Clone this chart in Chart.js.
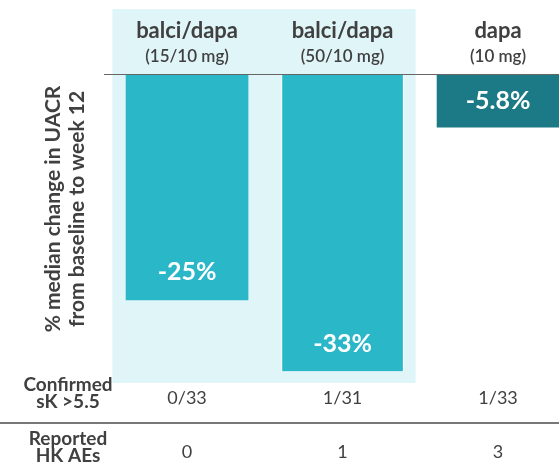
<!DOCTYPE html>
<html>
<head>
<meta charset="utf-8">
<script src="https://cdn.jsdelivr.net/npm/chart.js@4"></script>
<style>
  body { margin: 0; background: #fff; overflow: hidden; }
  canvas { display: block; }
</style>
</head>
<body>
<canvas id="myChart" width="559" height="465"></canvas>
<script>
// data
var groups = ["balci/dapa", "balci/dapa", "dapa"];
var doses = ["(15/10 mg)", "(50/10 mg)", "(10 mg)"];
var uacrChange = [-25, -33, -5.8];
var uacrLabels = ["-25%", "-33%", "-5.8%"];
var confirmedSK = ["0/33", "1/31", "1/33"];
var reportedHK = ["0", "1", "3"];

var FONT = "Lato, 'Open Sans', sans-serif";
var TEXT = "#404040";

var overlay = {
    id: "overlay",
    beforeDatasetsDraw: function (chart) {
        var ctx = chart.ctx, x = chart.scales.x, a = chart.chartArea;
        // shaded band behind the two combination groups
        var x0 = x.getPixelForValue(-0.48), x1 = x.getPixelForValue(1.47);
        ctx.save();
        ctx.fillStyle = "#e0f5f8";
        ctx.fillRect(x0, a.top, x1 - x0, a.bottom - a.top);
        ctx.restore();
    },
    afterDraw: function (chart) {
        var ctx = chart.ctx, x = chart.scales.x, y = chart.scales.y, a = chart.chartArea;
        ctx.save();
        // zero baseline
        var y0 = Math.round(y.getPixelForValue(0)) - 0.5;
        ctx.strokeStyle = "#666";
        ctx.lineWidth = 1;
        ctx.beginPath();
        ctx.moveTo(a.left, y0);
        ctx.lineTo(a.right, y0);
        ctx.stroke();

        ctx.textAlign = "center";
        ctx.textBaseline = "middle";
        for (var i = 0; i < groups.length; i++) {
            var cx = x.getPixelForValue(i);
            ctx.fillStyle = TEXT;
            ctx.font = "bold 22px " + FONT;
            ctx.fillText(groups[i], cx, 31);
            ctx.font = "600 17px " + FONT;
            ctx.fillText(doses[i], cx, 57);

            // value label inside bar
            var bottom = y.getPixelForValue(uacrChange[i]);
            ctx.fillStyle = "#fff";
            ctx.font = "bold 25px " + FONT;
            ctx.fillText(uacrLabels[i], cx, Math.max(bottom - 28, (bottom + y.getPixelForValue(0)) / 2));

            ctx.fillStyle = TEXT;
            ctx.font = "18px " + FONT;
            ctx.fillText(confirmedSK[i], cx, 398);
            ctx.fillText(reportedHK[i], cx, 452);
        }

        // row headers
        ctx.fillStyle = TEXT;
        ctx.font = "bold 19px " + FONT;
        ctx.fillText("Confirmed", 68, 385);
        ctx.fillText("sK >5.5", 68, 402);
        ctx.fillText("Reported", 68, 439);
        ctx.fillText("HK AEs", 68, 456);

        // divider between table rows
        ctx.strokeStyle = "#777";
        ctx.lineWidth = 2;
        ctx.beginPath();
        ctx.moveTo(0, 423);
        ctx.lineTo(chart.width, 423);
        ctx.stroke();

        // y title
        ctx.translate(65, 209);
        ctx.rotate(-Math.PI / 2);
        ctx.font = "bold 21px " + FONT;
        ctx.fillText("% median change in UACR", 0, -12);
        ctx.fillText("from baseline to week 12", 0, 12);
        ctx.restore();
    }
};

var ctx = document.getElementById("myChart");
var chart = new Chart(ctx, {
    type: "bar",
    data: {
        datasets: [{
            data: uacrChange.map(function (v, i) { return { x: i, y: v }; }),
            backgroundColor: ["#2ab7c8", "#2ab7c8", "#1b7a85"],
            borderColor: "#fff",
            borderWidth: [0, 1, 0],
            barThickness: 122
        }]
    },
    options: {
        responsive: false,
        animation: false,
        layout: { padding: { left: 104, right: 0, top: 9, bottom: 82 } },
        plugins: { legend: { display: false }, tooltip: { enabled: false } },
        scales: {
            x: { type: "linear", offset: false, min: -0.534, max: 2.392, display: false },
            y: { min: -34.22, max: 7.333, display: false }
        }
    },
    plugins: [overlay]
});
</script>
</body>
</html>
